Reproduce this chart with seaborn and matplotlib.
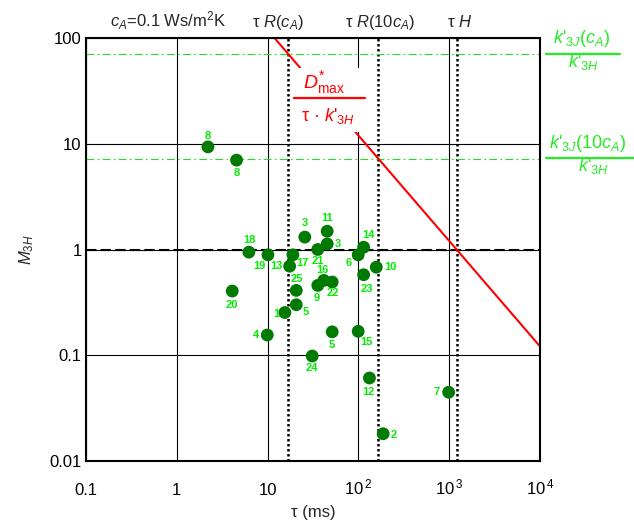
import numpy as np
import pandas as pd
import matplotlib
matplotlib.use("Agg")
import matplotlib.pyplot as plt
from matplotlib.patches import Rectangle
from matplotlib.lines import Line2D
import seaborn as sns

# ---------------- data ----------------
point_labels = ["8", "8", "3", "11", "3", "21", "14", "6", "10", "23", "18", "19", "13", "17",
                "16", "9", "22", "25", "5", "1", "20", "4", "5", "15", "24", "12", "7", "2"]
tau_ms = [2.21, 4.56, 25.7, 45.3, 45.3, 35.7, 114, 99.3, 157, 114, 6.24, 10.1, 17.5, 19.0,
          41.6, 35.7, 51.4, 20.7, 20.7, 15.5, 4.09, 9.93, 51.4, 99.3, 31.0, 132, 982, 187]
m3h = [9.37, 7.02, 1.31, 1.49, 1.13, 1.0, 1.05, 0.89, 0.68, 0.577, 0.944, 0.89, 0.695, 0.89,
       0.51, 0.457, 0.492, 0.41, 0.30, 0.253, 0.404, 0.155, 0.166, 0.168, 0.098, 0.0607, 0.0445, 0.018]

tau_R_cA = 16.6      # ms
tau_R_10cA = 166.0   # ms
tau_H = 1200.0       # ms
ratio_cA = 70.7      # k'3J(cA)/k'3H
ratio_10cA = 7.2     # k'3J(10cA)/k'3H
Dmax_over_k = 1200.0 # D*max / k'3H  (ms)

x_ticks = [0.1, 1, 10, 100, 1000, 10000]
x_ticklabels = ["0.1", "1", "10", r"$10^{\,2}$", r"$10^{\,3}$", r"$10^{\,4}$"]
y_ticks = [0.01, 0.1, 1, 10, 100]
y_ticklabels = ["0.01", "0.1", "1", "10", "100"]

# label offsets (pixels, right / down)
label_offsets = [(0, -11), (0, 13), (0, -14), (0, -13), (11, 0), (0, 11), (5, -12), (-9, 8),
                 (14, 0), (3, 14), (1, -12), (-9, 11), (-13, 0), (10, 8), (-1, -10), (-1, 13),
                 (1, 11), (1, -11), (9, 7), (-9, 1), (0, 14), (-11, 0), (0, 13), (8, 11),
                 (0, 12), (-1, 14), (-12, 0), (11, 1)]

df = pd.DataFrame({"tau": tau_ms, "m3h": m3h, "label": point_labels})

# ---------------- style ----------------
sns.set_style("white")
plt.rcParams["font.family"] = ["Liberation Sans", "DejaVu Sans"]
plt.rcParams["mathtext.fontset"] = "custom"
plt.rcParams["mathtext.rm"] = "Liberation Sans"
plt.rcParams["mathtext.it"] = "Liberation Sans:italic"
plt.rcParams["mathtext.bf"] = "Liberation Sans:bold"

W, H = 634, 528
fig = plt.figure(figsize=(W / 100, H / 100), dpi=100)
L, R, T, B = 85.7, 540.3, 38.3, 460.7
ax = fig.add_axes([L / W, 1 - B / H, (R - L) / W, (B - T) / H])

ax.set_xscale("log")
ax.set_yscale("log")
ax.set_xlim(0.1, 1e4)
ax.set_ylim(0.01, 100)

ax.set_axisbelow(True)
ax.grid(True, which="major", color="black", lw=0.8)
ax.minorticks_off()

# reference lines
ax.axhline(1, color="black", lw=1.5, ls=(0, (5, 2)), zorder=1.2)
for v in (tau_R_cA, tau_R_10cA, tau_H):
    ax.axvline(v, color="black", lw=1.8, ls=(0, (1, 1)), zorder=1.5)
for h in (ratio_cA, ratio_10cA):
    ax.axhline(h, color="#22dd22", lw=0.8, ls=(0, (7, 3, 1.5, 3)), zorder=1.5)

tline = np.array([1.0, 1e4])
ax.plot(tline, Dmax_over_k / tline, color="red", lw=1.5, zorder=2)

# white box behind the red formula
ax.add_patch(Rectangle((0.454, 0.778), 0.176, 0.152, transform=ax.transAxes,
                       facecolor="white", edgecolor="none", zorder=3))
ax.add_line(Line2D([0.458, 0.614], [0.859, 0.859], transform=ax.transAxes,
                   color="red", lw=1.6, zorder=4))
ax.text(0.523, 0.882, r"$D^{*}_{\mathrm{max}}$", transform=ax.transAxes, color="red",
        fontsize=14, ha="center", va="baseline", zorder=4)
ax.text(0.532, 0.804, r"τ · $k$'$_{\mathit{3H}}$", transform=ax.transAxes, color="red",
        fontsize=13, ha="center", va="baseline", zorder=4)

# scatter points
sns.scatterplot(data=df, x="tau", y="m3h", color="#007a00", s=85, edgecolor="none",
                ax=ax, zorder=5, legend=False)
for lab, xv, yv, (dx, dy) in zip(point_labels, tau_ms, m3h, label_offsets):
    ax.annotate(lab, (xv, yv), xytext=(dx, -dy), textcoords="offset pixels",
                ha="center", va="center", color="#00ee00", fontsize=8,
                fontweight="bold", zorder=6)

# ticks
ax.set_xticks(x_ticks)
ax.set_xticklabels(x_ticklabels)
ax.set_yticks(y_ticks)
ax.set_yticklabels(y_ticklabels)
ax.tick_params(axis="both", length=0, labelsize=12, colors="black")
ax.tick_params(axis="x", pad=24.5)
ax.tick_params(axis="y", pad=3)
for lab in ax.get_xticklabels():
    lab.set_verticalalignment("baseline")

for sp in ax.spines.values():
    sp.set_color("black")
    sp.set_linewidth(1.5)
    sp.set_visible(True)

ax.set_xlabel("τ (ms)", fontsize=12)
ax.set_ylabel(r"$M_{\mathit{3H}}$", fontsize=12)
ax.xaxis.label.set_va("center")
ax.yaxis.label.set_va("center")
ax.xaxis.set_label_coords(0.5, -(512 - B) / (B - T))
ax.yaxis.set_label_coords(-(L - 27) / (R - L), 0.5)

# top annotations (figure pixel positions)
def fx(px):
    return px / W

def fy(py):
    return 1 - py / H

ybase = fy(26.7)
fig.text(fx(168), ybase, r"$c_A$=0.1 Ws/m$^2$K", ha="center", va="baseline", fontsize=12)
fig.text(fx(278), ybase, r"τ $R$($c_A$)", ha="center", va="baseline", fontsize=12)
fig.text(fx(380), ybase, r"τ $R$(10$c_A$)", ha="center", va="baseline", fontsize=12)
fig.text(fx(460), ybase, r"τ $H$", ha="center", va="baseline", fontsize=12)

# right-side green fractions
g = "#22ee22"
fig.add_artist(Line2D([fx(546), fx(620)], [fy(54), fy(54)], color=g, lw=1.6))
fig.text(fx(581.7), fy(43.3), r"$k$'$_{\mathit{3J}}$($c_A$)", color=g, fontsize=13,
         ha="center", va="baseline")
fig.text(fx(583), fy(67.5), r"$k$'$_{\mathit{3H}}$", color=g, fontsize=13,
         ha="center", va="baseline")
fig.add_artist(Line2D([fx(546), fx(634)], [fy(158.3), fy(158.3)], color=g, lw=1.6))
fig.text(fx(588), fy(148.3), r"$k$'$_{\mathit{3J}}$(10$c_A$)", color=g, fontsize=13,
         ha="center", va="baseline")
fig.text(fx(593), fy(171), r"$k$'$_{\mathit{3H}}$", color=g, fontsize=13,
         ha="center", va="baseline")

fig.savefig("out.png", dpi=100)
